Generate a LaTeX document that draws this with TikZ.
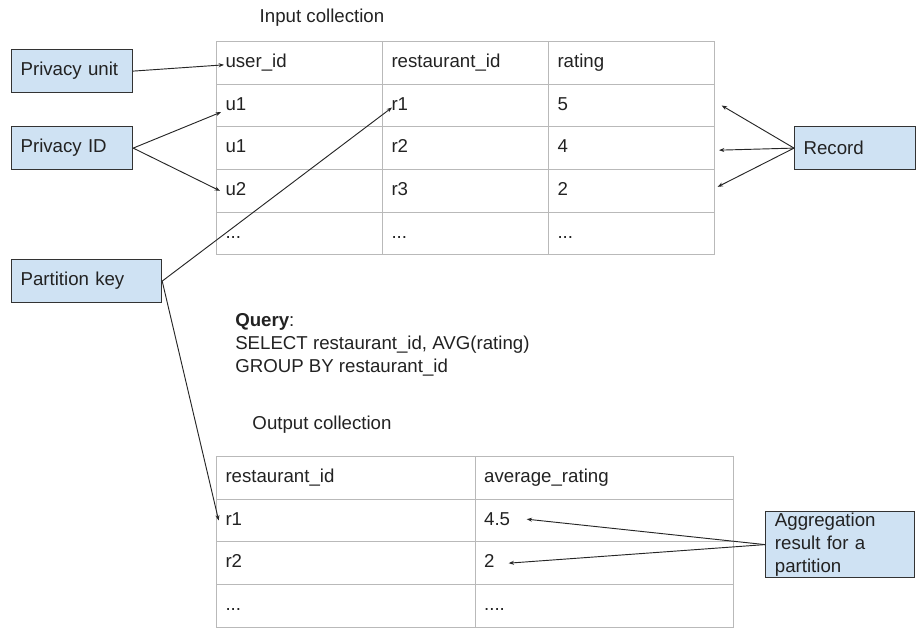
\documentclass[tikz,border=0pt]{standalone}
\usepackage{fontspec}
\setmainfont{Liberation Sans}
\usetikzlibrary{arrows.meta}
\definecolor{boxblue}{RGB}{207,226,243}
\definecolor{gridgray}{RGB}{185,185,185}
\definecolor{ink}{RGB}{34,34,34}

\begin{document}
\begin{tikzpicture}[x=0.75pt, y=-0.75pt, >={Stealth[length=4pt, width=3pt]},
    font=\fontsize{14}{17.25}\selectfont, text=ink,
    notebox/.style={draw=black!80, line width=0.9pt, fill=boxblue, anchor=north west,
        align=left, inner xsep=6.75pt, minimum height=32.25pt},
    cell/.style={draw=gridgray, line width=0.75pt, anchor=north west, align=left,
        inner xsep=6.75pt, minimum height=32pt, text height=10pt, text depth=3pt},
    incell/.style={cell, text width=111pt},
    outcell/.style={cell, text width=180.5pt},
    link/.style={->, line width=0.7pt, black!85}]
    \useasboundingbox (0,0) rectangle (922,643);
    % Titles
    \node (intitle) at (322,18) {Input collection};
    \node (outtitle) at (322,425) {Output collection};
    % Input table
    \node[incell] (i11) at (216,41) {user\_id};
    \node[incell] (i12) at (382,41) {restaurant\_id};
    \node[incell] (i13) at (548,41) {rating};
    \node[incell] (i21) at (216,83.67) {u1};
    \node[incell] (i22) at (382,83.67) {r1};
    \node[incell] (i23) at (548,83.67) {5};
    \node[incell] (i31) at (216,126.33) {u1};
    \node[incell] (i32) at (382,126.33) {r2};
    \node[incell] (i33) at (548,126.33) {4};
    \node[incell] (i41) at (216,169) {u2};
    \node[incell] (i42) at (382,169) {r3};
    \node[incell] (i43) at (548,169) {2};
    \node[incell] (i51) at (216,211.67) {...};
    \node[incell] (i52) at (382,211.67) {...};
    \node[incell] (i53) at (548,211.67) {...};
    % Query
    \node[anchor=north west, align=left, inner sep=0pt] (query) at (235,313)
        {\textbf{Query}:\\SELECT restaurant\_id, AVG(rating)\\GROUP BY restaurant\_id};
    % Output table
    \node[outcell] (o11) at (216,456) {restaurant\_id};
    \node[outcell] (o12) at (474.67,456) {average\_rating};
    \node[outcell] (o21) at (216,498.67) {r1};
    \node[outcell] (o22) at (474.67,498.67) {4.5};
    \node[outcell] (o31) at (216,541.33) {r2};
    \node[outcell] (o32) at (474.67,541.33) {2};
    \node[outcell] (o41) at (216,584) {...};
    \node[outcell] (o42) at (474.67,584) {....};
    % Labels
    \node[notebox, text width=77.25pt] (pu) at (11,49) {Privacy unit};
    \node[notebox, text width=77.25pt] (pid) at (11,126) {Privacy ID};
    \node[notebox, text width=99pt] (pk) at (11,259) {Partition key};
    \node[notebox, text width=77.25pt] (rec) at (794,126) {Record};
    \node[notebox, text width=97.5pt, inner xsep=7pt, inner ysep=0pt, minimum height=49.5pt] (agg)
        at (765,511) {Aggregation\\result for a\\partition};
    % Arrows
    \draw[link] (pu.east) -- ([xshift=6pt, yshift=-1.5pt]i11.west);
    \draw[link] (pid.east) -- ([xshift=3.75pt, yshift=-5pt]i21.west);
    \draw[link] (pid.east) -- ([xshift=3pt]i41.west);
    \draw[link] (pk.east) -- ([xshift=7.5pt, yshift=-1.5pt]i22.west);
    \draw[link] (pk.east) -- ([xshift=2pt]o21.west);
    \draw[link] (rec.west) -- ([xshift=5pt]i23.east);
    \draw[link] (rec.west) -- ([xshift=3pt, yshift=-1.5pt]i33.east);
    \draw[link] (rec.west) -- ([xshift=2pt, yshift=3pt]i43.east);
    \draw[link] (agg.west) -- ([xshift=39pt, yshift=1pt]o22.west);
    \draw[link] (agg.west) -- ([xshift=25.5pt]o32.west);
\end{tikzpicture}
\end{document}
